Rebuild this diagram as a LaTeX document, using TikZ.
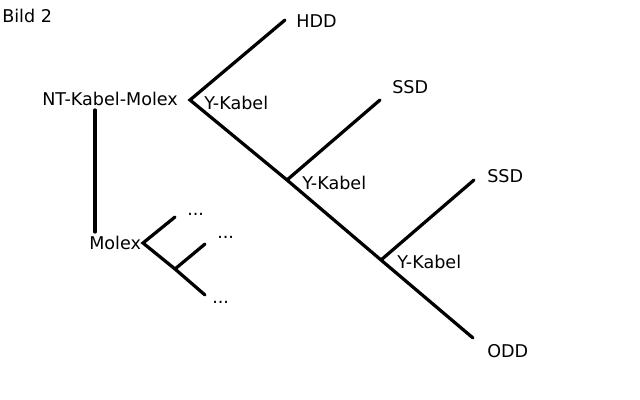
\documentclass[tikz,border=0pt]{standalone}
\usepackage{fontspec}
\setmainfont{DejaVu Sans}
\usepackage{tikz}

\begin{document}
\begin{tikzpicture}[x=0.025cm, y=-0.025cm,
        kabel/.style={line width=2.3pt, line cap=round},
        label/.style={inner sep=0pt, anchor=west, font=\fontsize{12.5}{14}\selectfont},
        punkte/.style={inner sep=0pt, anchor=base west, font=\fontsize{12.5}{14}\selectfont}]
        \useasboundingbox (0,0) rectangle (640,400);
        \node[label] (bild) at (2,16) {Bild 2};

        % Hauptstrang
        \coordinate (y1) at (190,100);
        \coordinate (y2) at (287,180);
        \coordinate (y3) at (381,260);
        \coordinate (hddend) at (285,20);
        \coordinate (ssdaend) at (380,100);
        \coordinate (ssdbend) at (474,180);
        \coordinate (oddend) at (473,338);

        \node[label] (ntmolex) at (42,99) {NT-Kabel-Molex};
        \node[label] (ykabela) at (204,102.5) {Y-Kabel};
        \node[label] (ykabelb) at (302,183) {Y-Kabel};
        \node[label] (ykabelc) at (397,262) {Y-Kabel};
        \node[label] (hdd) at (296,21.5) {HDD};
        \node[label] (ssda) at (392,87.5) {SSD};
        \node[label] (ssdb) at (487,176) {SSD};
        \node[label] (odd) at (487,351) {ODD};

        \draw[kabel] (hddend) -- (y1) -- (y2) -- (y3) -- (oddend);
        \draw[kabel] (y2) -- (ssdaend);
        \draw[kabel] (y3) -- (ssdbend);

        % Molex-Zweig
        \coordinate (ntunten) at (95,110);
        \coordinate (molexoben) at (95,232);
        \coordinate (m1) at (143,243);
        \coordinate (m2) at (175,269);
        \coordinate (maend) at (175,217);
        \coordinate (mbend) at (205,244);
        \coordinate (mcend) at (205,295);

        \node[label] (molex) at (89,242.5) {Molex};
        \node[punkte] (pa) at (187,216) {...};
        \node[punkte] (pb) at (217,238.5) {...};
        \node[punkte] (pc) at (212,304) {...};

        \draw[kabel] (ntunten) -- (molexoben);
        \draw[kabel] (maend) -- (m1) -- (m2) -- (mcend);
        \draw[kabel] (m2) -- (mbend);
    \end{tikzpicture}
\end{document}
